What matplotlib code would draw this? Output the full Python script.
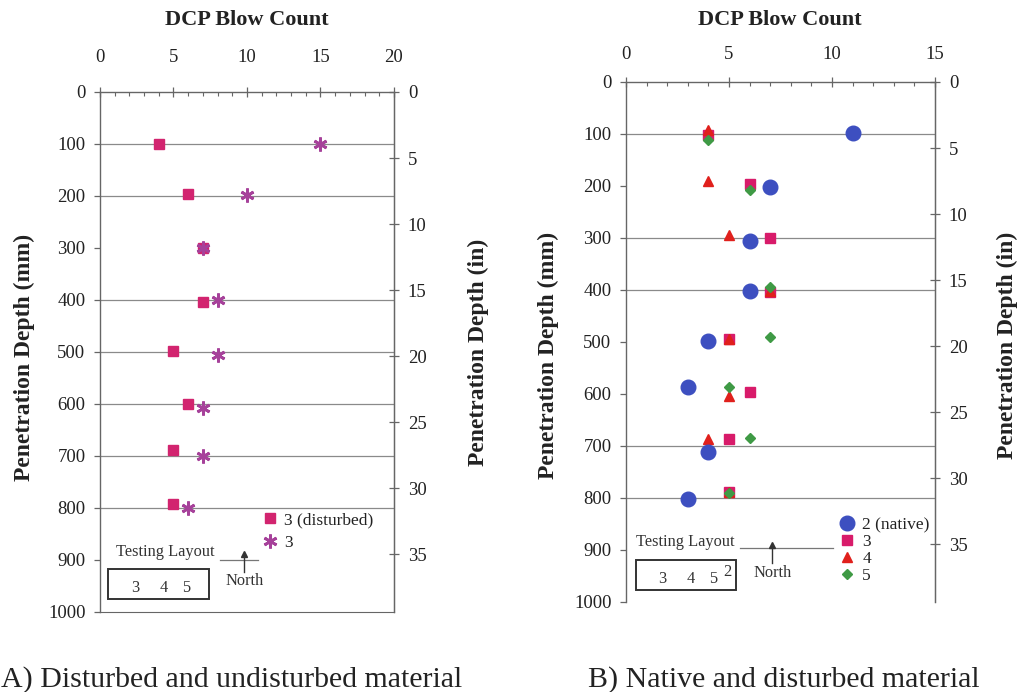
import matplotlib
matplotlib.use("Agg")
import matplotlib.pyplot as plt
from matplotlib.patches import Rectangle
from matplotlib.lines import Line2D
from matplotlib.ticker import MultipleLocator

# ---------------- data ----------------
# Panel A
a_dist_count = [4, 6, 7, 7, 5, 6, 5, 5]
a_dist_depth = [100, 197, 300, 403, 498, 600, 689, 793]
a_und_count = [15, 10, 7, 8, 8, 7, 7, 6]
a_und_depth = [100, 198, 300, 400, 505, 608, 700, 800]
a_grid_mm = [100, 200, 400, 500, 600, 700, 800]

# Panel B
b2_count = [11, 7, 6, 6, 4, 3, 4, 3]
b2_depth = [98, 202, 306, 402, 498, 587, 711, 801]
b3_count = [4, 6, 7, 7, 5, 6, 5, 5]
b3_depth = [101, 196, 300, 403, 494, 596, 687, 788]
b4_count = [4, 4, 5, 7, 5, 5, 4, 5]
b4_depth = [92, 190, 294, 402, 494, 604, 687, 788]
b5_count = [4, 6, 6, 7, 7, 5, 6, 5]
b5_depth = [111, 207, 306, 394, 490, 587, 684, 790]
b_grid_mm = [100, 300, 400, 700, 800]

a_labels = ["3 (disturbed)", "3"]
b_labels = ["2 (native)", "3", "4", "5"]
inch_ticks = [0, 5, 10, 15, 20, 25, 30, 35]

# ---------------- figure ----------------
W, H = 1020, 692
fig = plt.figure(figsize=(W / 100, H / 100), dpi=100)
fig.patch.set_facecolor("white")
SERIF = ["Liberation Serif", "DejaVu Serif"]
plt.rcParams["font.family"] = SERIF


def fx(px):
    return px / W


def fy(py):
    return 1 - py / H


TXT = "#222222"
SP = "#666666"
TICK_FS = 13.5


def style_axes(ax, xmax, xpad, ypad, bottom_spine):
    ax.set_xlim(0, xmax)
    ax.set_ylim(1000, 0)
    ax.xaxis.tick_top()
    ax.xaxis.set_major_locator(MultipleLocator(5))
    ax.xaxis.set_minor_locator(MultipleLocator(1))
    ax.yaxis.set_major_locator(MultipleLocator(100))
    ax.tick_params(axis="x", which="major", direction="inout", length=7,
                   width=0.9, color=SP, pad=xpad, labelsize=TICK_FS,
                   labelcolor=TXT)
    ax.tick_params(axis="x", which="minor", direction="in", length=3,
                   width=0.8, color=SP)
    ax.tick_params(axis="y", which="major", direction="out", length=4.5,
                   width=0.9, color=SP, pad=ypad, labelsize=TICK_FS,
                   labelcolor=TXT, right=False)
    for s in ["left", "right", "top"]:
        ax.spines[s].set_color(SP)
        ax.spines[s].set_linewidth(1.0)
    ax.spines["bottom"].set_visible(bottom_spine)
    ax.spines["bottom"].set_color(SP)
    ax.set_facecolor("none")
    sec = ax.secondary_yaxis("right", functions=(lambda mm: mm / 25.4,
                                                 lambda inch: inch * 25.4))
    sec.set_yticks(inch_ticks)
    sec.tick_params(direction="inout", length=7, width=0.9, color=SP,
                    pad=6.5, labelsize=TICK_FS, labelcolor=TXT)
    sec.spines["right"].set_color(SP)
    for lab in ax.get_xticklabels() + ax.get_yticklabels() + sec.get_yticklabels():
        lab.set_family(SERIF)
    return sec


# ---------------- panel A ----------------
axA = fig.add_axes([fx(100), fy(612), (394 - 100) / W, (612 - 92) / H])
style_axes(axA, 20, 15, 6, True)
for g in a_grid_mm:
    axA.axhline(g, color="#8a8a8a", lw=0.9, zorder=1)
hA1, = axA.plot(a_dist_count, a_dist_depth, ls="none", marker="s",
                ms=6.5, color="#d2246f", mec="#d2246f", zorder=3)
hA2, = axA.plot(a_und_count, a_und_depth, ls="none", marker=(6, 2, 0),
                ms=10, color="#a6419a", mec="#a6419a", mew=2.0, zorder=4)
axA.legend([hA1, hA2], a_labels, loc="upper left",
           bbox_to_anchor=(fx(261), fy(512)), bbox_transform=fig.transFigure,
           frameon=False, borderpad=0, borderaxespad=0, handlelength=1.0,
           handletextpad=0.35, labelspacing=0.4, numpoints=1,
           prop={"family": SERIF, "size": 12.5}, labelcolor=TXT)

# ---------------- panel B ----------------
axB = fig.add_axes([fx(626), fy(602), (935 - 626) / W, (602 - 82) / H])
style_axes(axB, 15, 10.5, 6, False)
for g in b_grid_mm:
    axB.axhline(g, color="#8a8a8a", lw=0.9, zorder=1)
hB2, = axB.plot(b2_count, b2_depth, ls="none", marker="o", ms=10.5,
                color="#3d4fc0", mec="#3d4fc0", zorder=6)
hB3, = axB.plot(b3_count, b3_depth, ls="none", marker="s", ms=6.5,
                color="#d81b6a", mec="#d81b6a", zorder=3)
hB4, = axB.plot(b4_count, b4_depth, ls="none", marker="^", ms=7.5,
                color="#e0201c", mec="#e0201c", zorder=4)
hB5, = axB.plot(b5_count, b5_depth, ls="none", marker="D", ms=5.5,
                color="#3f9a45", mec="#3f9a45", zorder=5)
axB.legend([hB2, hB3, hB4, hB5], b_labels, loc="upper left",
           bbox_to_anchor=(fx(838), fy(517)), bbox_transform=fig.transFigure,
           frameon=False, borderpad=0, borderaxespad=0, handlelength=1.0,
           handletextpad=0.4, labelspacing=0.05, numpoints=1,
           prop={"family": SERIF, "size": 12.5}, labelcolor=TXT)

# ---------------- titles / axis labels ----------------
bold = dict(family=SERIF, weight="bold", color=TXT)
fig.text(fx(247), fy(20), "DCP Blow Count", ha="center", va="center",
         fontsize=16, **bold)
fig.text(fx(780), fy(20), "DCP Blow Count", ha="center", va="center",
         fontsize=16, **bold)
fig.text(fx(24), fy(357), "Penetration Depth (mm)", rotation=90,
         ha="center", va="center", fontsize=17, **bold)
fig.text(fx(478), fy(352), "Penetration Depth (in)", rotation=90,
         ha="center", va="center", fontsize=17, **bold)
fig.text(fx(548), fy(355), "Penetration Depth (mm)", rotation=90,
         ha="center", va="center", fontsize=17, **bold)
fig.text(fx(1007), fy(345), "Penetration Depth (in)", rotation=90,
         ha="center", va="center", fontsize=17, **bold)

# ---------------- captions ----------------
fig.text(fx(1), fy(687), "A) Disturbed and undisturbed material",
         ha="left", va="baseline", fontsize=21.5, family=SERIF, color=TXT)
fig.text(fx(588), fy(687), "B) Native and disturbed material",
         ha="left", va="baseline", fontsize=21.5, family=SERIF, color=TXT)


# ---------------- testing layout insets ----------------
def layout_inset(tx, ty, box, nums, line, arrow_x, arrow_y, north):
    c = "#333333"
    fig.text(fx(tx), fy(ty), "Testing Layout", ha="center", va="center",
             fontsize=11.8, family=SERIF, color=c)
    x0, y0, x1, y1 = box
    fig.add_artist(Rectangle((fx(x0), fy(y1)), (x1 - x0) / W, (y1 - y0) / H,
                             transform=fig.transFigure, fill=False,
                             ec=c, lw=1.4))
    for s, nx, ny in nums:
        fig.text(fx(nx), fy(ny), s, ha="center", va="center",
                 fontsize=11.8, family=SERIF, color=c)
    lx0, lx1, ly = line
    fig.add_artist(Line2D([fx(lx0), fx(lx1)], [fy(ly), fy(ly)],
                          transform=fig.transFigure, color="#777777", lw=0.9))
    fig.add_artist(Line2D([fx(arrow_x), fx(arrow_x)],
                          [fy(arrow_y[1]), fy(arrow_y[0] + 3)],
                          transform=fig.transFigure, color=c, lw=1.0))
    fig.add_artist(Line2D([fx(arrow_x)], [fy(arrow_y[0] + 2)],
                          transform=fig.transFigure, color=c, marker="^",
                          ms=4, ls="none"))
    fig.text(fx(north[0]), fy(north[1]), "North", ha="center", va="center",
             fontsize=11.8, family=SERIF, color=c)


layout_inset(165, 552, (108, 569, 209, 599),
             [("3", 135, 588), ("4", 164, 588), ("5", 186, 588)],
             (220, 258, 560), 244, (552, 572), (245, 581))
layout_inset(685, 542, (636, 560, 736, 590),
             [("3", 662, 579), ("4", 691, 579), ("5", 713, 579),
              ("2", 727, 572)],
             (740, 833, 548), 772, (543, 563), (773, 573))

fig.savefig("out.png", dpi=100, facecolor="white")
